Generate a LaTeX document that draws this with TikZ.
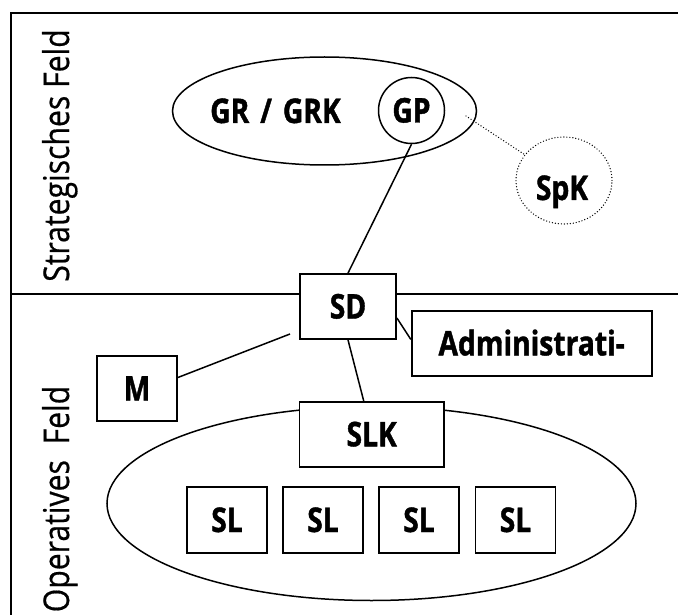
\documentclass[tikz,border=0pt]{standalone}
\usepackage{fontspec}
\setmainfont{Open Sans}
\newfontfamily\lblfont{Open Sans}[FakeStretch=0.83,BoldFeatures={FakeBold=1.2}]
\newfontfamily\sidefont{Open Sans}[FakeStretch=0.85,FakeBold=0.5]
\usetikzlibrary{shapes.geometric}
\begin{document}
\begin{tikzpicture}[x=1pt,y=-1pt,
  frame/.style={line width=2.2pt},
  lbl/.style={inner sep=0pt, font=\lblfont\bfseries\fontsize{34}{38}\selectfont},
  side/.style={inner sep=0pt, font=\sidefont\fontsize{35.5}{40}\selectfont},
  boxn/.style={draw, line width=1.8pt, fill=white, inner sep=0pt, minimum width=#1, minimum height=65pt,
    font=\lblfont\bfseries\fontsize{34}{38}\selectfont, text height=24pt, text depth=0pt},
  ell/.style={draw, ellipse, line width=1.5pt, inner sep=0pt},
  conn/.style={line width=1.5pt},
  dotline/.style={line width=1.4pt, line cap=round, dash pattern=on 0pt off 3pt}
]
\useasboundingbox (0,0) rectangle (678,615);
% frame
\draw[frame] (678,13) -- (11,13) -- (11,615);
\draw[frame] (11,294) -- (678,294);
% side labels
\node[side, rotate=90, anchor=base] (sf) at (69,155.5) {Strategisches Feld};
\node[side, rotate=90, anchor=base] (of) at (69,499) {Operatives\ \ Feld};
% strategic field
\node[ell, minimum width=304pt, minimum height=108pt] (gr) at (324.5,111) {};
\node[lbl, anchor=base] (grt) at (275.5,123) {GR\hspace{11pt}/\hspace{11pt}GRK};
\node[draw, circle, line width=1.5pt, minimum size=66pt, inner sep=0pt,
  font=\lblfont\bfseries\fontsize{34}{38}\selectfont, text height=24pt, text depth=0pt] (gp) at (411.5,110.5) {GP};
\node[ell, dotline, minimum width=96pt, minimum height=87pt] (spk) at (564,180.5) {};
\node[lbl, anchor=base] (spkt) at (562,200) {SpK};
% operative field
\node[ell, minimum width=529pt, minimum height=194pt] (ops) at (371.5,503.5) {};
\node[boxn=96pt] (sd) at (348,306.5) {SD};
\node[boxn=240pt] (adm) at (531.7,343.4) {Administrati-};
\node[boxn=80pt] (m) at (137,388.5) {M};
\node[boxn=144.5pt] (slk) at (371.7,434.3) {SLK};
\node[boxn=80pt, minimum height=66pt] (sl1) at (227,520) {SL};
\node[boxn=80pt, minimum height=66pt] (sl2) at (323,520) {SL};
\node[boxn=80pt, minimum height=66pt] (sl3) at (419,520) {SL};
\node[boxn=80pt, minimum height=66pt] (sl4) at (515.5,520) {SL};
% connectors
\draw[conn] (gp.south) -- (sd.north);
\draw[conn] (sd.south) -- ([xshift=-8pt]slk.north);
\draw[conn] ([yshift=-11.5pt]sd.east) -- ([yshift=4pt]adm.west);
\coordinate (mend) at (290,334);
\draw[conn] ([yshift=11pt]m.east) -- (mend);
\coordinate (dotst) at (466,116);
\draw[dotline] (dotst) -- (spk);
\end{tikzpicture}
\end{document}
